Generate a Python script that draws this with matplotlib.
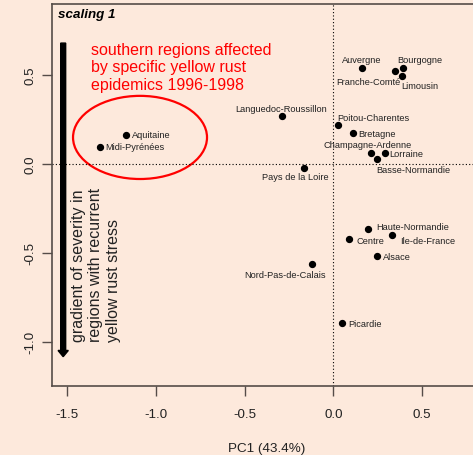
import numpy as np
import matplotlib
matplotlib.use("Agg")
import matplotlib.pyplot as plt
from matplotlib.patches import Ellipse

plt.rcParams['font.family'] = ['Liberation Sans', 'DejaVu Sans']
plt.rcParams['axes.unicode_minus'] = False

# PCA site scores (scaling 1) for the French regions
regions = ['Aquitaine', 'Midi-Pyrénées', 'Languedoc-Roussillon', 'Auvergne',
           'Bourgogne', 'Franche-Comté', 'Limousin', 'Poitou-Charentes',
           'Bretagne', 'Champagne-Ardenne', 'Lorraine', 'Basse-Normandie',
           'Pays de la Loire', 'Haute-Normandie', 'Ile-de-France', 'Centre',
           'Alsace', 'Nord-Pas-de-Calais', 'Picardie']
pc1 = [-1.17, -1.315, -0.287, 0.163, 0.394, 0.348, 0.389, 0.028, 0.109,
       0.214, 0.293, 0.246, -0.163, 0.197, 0.332, 0.090, 0.246, -0.118, 0.051]
pc2 = [0.163, 0.096, 0.269, 0.537, 0.537, 0.524, 0.496, 0.218, 0.173,
       0.062, 0.062, 0.028, -0.021, -0.368, -0.398, -0.423, -0.52, -0.565, -0.896]

# label placement: offset in pixels and horizontal alignment
label_pos = {
    'Aquitaine': (6, 0, 'left'),
    'Midi-Pyrénées': (5, 0, 'left'),
    'Languedoc-Roussillon': (-1, 8, 'center'),
    'Auvergne': (0, 9, 'center'),
    'Bourgogne': (17, 9, 'center'),
    'Franche-Comté': (-27, -11, 'center'),
    'Limousin': (17, -10, 'center'),
    'Poitou-Charentes': (-1, 8, 'left'),
    'Bretagne': (6, 0, 'left'),
    'Champagne-Ardenne': (-4, 8, 'center'),
    'Lorraine': (4, -1, 'left'),
    'Basse-Normandie': (36, -11, 'center'),
    'Pays de la Loire': (-9, -9, 'center'),
    'Haute-Normandie': (8, 3, 'left'),
    'Ile-de-France': (8, -6, 'left'),
    'Centre': (7, -1, 'left'),
    'Alsace': (6, 0, 'left'),
    'Nord-Pas-de-Calais': (-27, -10, 'center'),
    'Picardie': (6, 0, 'left'),
}

bg = '#fde9dc'
frame = '#554c48'

fig = plt.figure(figsize=(4.73, 4.56), dpi=100, facecolor=bg)
ax = fig.add_axes([52/473, 69/456, 430/473, 382/456], facecolor=bg)

ax.axhline(0, color='black', lw=0.8, dashes=(1, 2))
ax.axvline(0, color='black', lw=0.8, dashes=(1, 2))

ax.scatter(pc1, pc2, s=18, color='black', zorder=3)
for name, x, y in zip(regions, pc1, pc2):
    dx, dy, ha = label_pos[name]
    ax.annotate(name, (x, y), xytext=(dx, dy), textcoords='offset pixels',
                ha=ha, va='center', fontsize=6.7, color='#222222')

ax.set_xlim(-1.585, 0.838)
ax.set_ylim(-1.25, 0.90)
ax.set_xticks([-1.5, -1.0, -0.5, 0.0, 0.5])
ax.set_yticks([-1.0, -0.5, 0.0, 0.5])
ax.tick_params(length=7, width=1, color=frame, labelsize=9.6,
               labelcolor='#222222')
ax.tick_params(axis='x', pad=9)
ax.tick_params(axis='y', pad=4)
for lab in ax.get_yticklabels():
    lab.set_rotation(90)
    lab.set_va('center')
for s in ax.spines.values():
    s.set_color(frame)
    s.set_linewidth(1.2)

ax.set_xlabel('PC1 (43.4%)', fontsize=9.7, color='#222222', labelpad=16)

ax.text(0.013, 0.975, 'scaling 1', transform=ax.transAxes, fontsize=9.6,
        fontweight='bold', fontstyle='italic', va='center', ha='left')

# southern regions highlighted
ax.add_patch(Ellipse((-1.089, 0.149), 0.755, 0.468, fill=False,
                     edgecolor='red', lw=1.6))
ax.text(-1.365, 0.546, 'southern regions affected\nby specific yellow rust\nepidemics 1996-1998',
        color='red', fontsize=11.5, ha='left', va='center', linespacing=1.2)

# severity gradient arrow
ax.arrow(-1.522, 0.68, 0, -1.765, width=0.028, head_width=0.058,
         head_length=0.035, length_includes_head=True, color='black')
ax.text(-1.339, -0.995, 'gradient of severity in\nregions with recurrent\nyellow rust stress',
        rotation=90, ha='center', va='bottom', multialignment='left',
        fontsize=11.5, color='#222222', linespacing=1.2)

fig.savefig('out.png', dpi=100, facecolor=bg)
